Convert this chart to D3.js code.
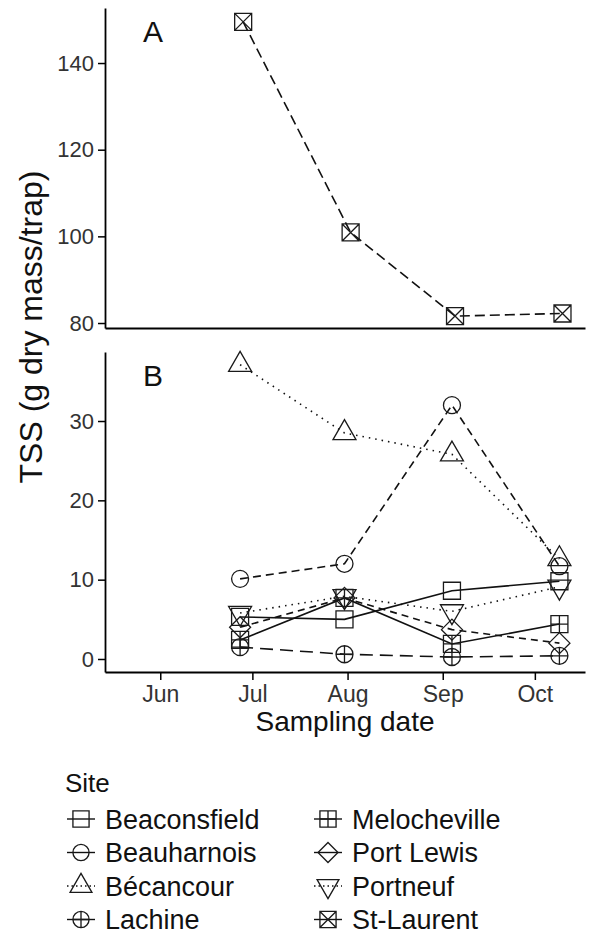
<!DOCTYPE html>
<html>
<head>
<meta charset="utf-8">
<script src="https://cdn.jsdelivr.net/npm/d3@7"></script>
<style>
  body { margin: 0; background: #fff; }
  text { font-family: "Liberation Sans", Arial, sans-serif; }
</style>
</head>
<body>
<svg width="589" height="938"></svg>
<script>
// Data
var sites = ["Beaconsfield", "Beauharnois", "Bécancour", "Lachine",
             "Melocheville", "Port Lewis", "Portneuf", "St-Laurent"];
var sampleDates = ["2013-06-27", "2013-07-31", "2013-09-04", "2013-10-09"];
var stLaurentDates = ["2013-06-28", "2013-08-02", "2013-09-05", "2013-10-10"];

var beaconsfield = [5.3, 5.0, 8.6, 9.8];
var beauharnois  = [10.1, 12.0, 32.0, 11.7];
var becancour    = [37.1, 28.5, 25.8, 12.6];
var lachine      = [1.5, 0.6, 0.25, 0.4];
var melocheville = [2.4, 7.7, 1.9, 4.4];
var portLewis    = [4.0, 7.7, 3.7, 2.0];
var portneuf     = [5.8, 7.9, 6.0, 9.1];
var stLaurent    = [149.5, 100.9, 81.6, 82.2];

var monthTicks = ["2013-06-01", "2013-07-01", "2013-08-01", "2013-09-01", "2013-10-01"];
var monthLabels = ["Jun", "Jul", "Aug", "Sep", "Oct"];
var ticksA = [80, 100, 120, 140];
var ticksB = [0, 10, 20, 30];
var xDomain = ["2013-05-14", "2013-10-17T08:00"];
var domainA = [78.85, 152.7];
var domainB = [-1.64, 38.7];

// shape + line type per site
var shapes = ["square", "circle", "triUp", "circlePlus", "squarePlus", "diamond", "triDown", "squareX"];
var dashes = [null, "8,5", "1.5,5", "13,7", null, "7,5", "1.5,5", "10,5"];

var parse = d3.isoParse;

var svg = d3.select("svg"),
    left = 105, right = 585;

var x = d3.scaleTime()
    .domain(xDomain.map(parse))
    .range([left, right]);

var yA = d3.scaleLinear().domain(domainA).range([328, 8]);
var yB = d3.scaleLinear().domain(domainB).range([672, 352]);

function shapePath(kind) {
  var h = 8.5, r = 8.5, d = 10.5, a = 23, th = a * Math.sqrt(3) / 2;
  var sq = "M" + -h + "," + -h + "H" + h + "V" + h + "H" + -h + "Z";
  var ci = "M" + -r + ",0a" + r + "," + r + " 0 1,0 " + 2 * r + ",0a" + r + "," + r + " 0 1,0 " + -2 * r + ",0Z";
  switch (kind) {
    case "square": return sq;
    case "circle": return ci;
    case "circlePlus": return ci + "M" + -r + ",0H" + r + "M0," + -r + "V" + r;
    case "squarePlus": return sq + "M" + -h + ",0H" + h + "M0," + -h + "V" + h;
    case "squareX": return sq + "M" + -h + "," + -h + "L" + h + "," + h + "M" + h + "," + -h + "L" + -h + "," + h;
    case "diamond": return "M0," + -d + "L" + d + ",0L0," + d + "L" + -d + ",0Z";
    case "triUp": return "M0," + (-2 * th / 3) + "L" + a / 2 + "," + th / 3 + "L" + -a / 2 + "," + th / 3 + "Z";
    case "triDown": return "M0," + (2 * th / 3) + "L" + a / 2 + "," + -th / 3 + "L" + -a / 2 + "," + -th / 3 + "Z";
  }
}

function series(values, dates) {
  return values.map(function(v, i) { return {date: parse(dates[i]), v: v}; });
}

var seriesB = [
  {i: 0, pts: series(beaconsfield, sampleDates)},
  {i: 1, pts: series(beauharnois, sampleDates)},
  {i: 2, pts: series(becancour, sampleDates)},
  {i: 3, pts: series(lachine, sampleDates)},
  {i: 4, pts: series(melocheville, sampleDates)},
  {i: 5, pts: series(portLewis, sampleDates)},
  {i: 6, pts: series(portneuf, sampleDates)}
];
var seriesA = [{i: 7, pts: series(stLaurent, stLaurentDates)}];

function drawPanel(y, data, ticks, letter, showX) {
  var g = svg.append("g");

  var line = d3.line()
      .x(function(d) { return x(d.date); })
      .y(function(d) { return y(d.v); });

  g.selectAll(".ln")
    .data(data)
    .enter().append("path")
      .attr("d", function(d) { return line(d.pts); })
      .attr("fill", "none")
      .attr("stroke", "#111")
      .attr("stroke-width", 1.6)
      .attr("stroke-dasharray", function(d) { return dashes[d.i]; });

  data.forEach(function(s) {
    g.selectAll(null)
      .data(s.pts)
      .enter().append("path")
        .attr("transform", function(d) { return "translate(" + x(d.date) + "," + y(d.v) + ")"; })
        .attr("d", shapePath(shapes[s.i]))
        .attr("fill", "none")
        .attr("stroke", "#1a1a1a")
        .attr("stroke-width", 1.3);
  });

  // y axis
  var ya = g.append("g")
      .attr("transform", "translate(" + left + ",0)")
      .call(d3.axisLeft(y).tickValues(ticks).tickSize(7).tickPadding(4).tickSizeOuter(0));
  ya.select(".domain").attr("stroke-width", 1.8);
  ya.selectAll(".tick line").attr("stroke-width", 1.5);
  ya.selectAll(".tick text").attr("font-size", 22).attr("fill", "#333")
      .style("font-family", "'Liberation Sans', Arial, sans-serif");

  // x axis
  var xa = g.append("g")
      .attr("transform", "translate(0," + y.range()[0] + ")");
  if (showX) {
    xa.call(d3.axisBottom(x)
        .tickValues(monthTicks.map(parse))
        .tickFormat(function(d, i) { return monthLabels[i]; })
        .tickSize(8).tickPadding(6).tickSizeOuter(0));
    xa.selectAll(".tick text").attr("font-size", 23).attr("fill", "#333")
        .style("font-family", "'Liberation Sans', Arial, sans-serif");
    xa.selectAll(".tick line").attr("stroke-width", 1.5);
  } else {
    xa.call(d3.axisBottom(x).tickValues([]).tickSizeOuter(0));
  }
  xa.select(".domain").attr("stroke-width", 1.8);

  g.append("text")
    .attr("x", 143)
    .attr("y", y.range()[1] + 34)
    .attr("font-size", 30)
    .attr("fill", "#111")
    .text(letter);
}

drawPanel(yA, seriesA, ticksA, "A", false);
drawPanel(yB, seriesB, ticksB, "B", true);

// axis titles
svg.append("text")
  .attr("x", (left + right) / 2)
  .attr("y", 731)
  .attr("text-anchor", "middle")
  .attr("font-size", 28)
  .attr("fill", "#111")
  .text("Sampling date");

svg.append("text")
  .attr("transform", "translate(42,327) rotate(-90)")
  .attr("text-anchor", "middle")
  .attr("font-size", 32)
  .attr("fill", "#111")
  .text("TSS (g dry mass/trap)");

// legend
var legend = svg.append("g");
legend.append("text")
  .attr("x", 65).attr("y", 792)
  .attr("font-size", 26)
  .attr("fill", "#111")
  .text("Site");

var items = legend.selectAll(".item")
  .data(sites)
  .enter().append("g")
    .attr("transform", function(d, i) {
      var col = Math.floor(i / 4), row = i % 4;
      return "translate(" + (col ? 328 : 81) + "," + (819 + row * 33.5) + ")";
    });

items.append("line")
  .attr("x1", -14).attr("x2", 14)
  .attr("stroke", "#111")
  .attr("stroke-width", 1.4)
  .attr("stroke-dasharray", function(d, i) { return dashes[i] && dashes[i].indexOf("1.5") === 0 ? "1.5,3" : null; });

items.append("path")
  .attr("d", function(d, i) { return shapePath(shapes[i]); })
  .attr("transform", "scale(0.95)")
  .attr("fill", "none")
  .attr("stroke", "#1a1a1a")
  .attr("stroke-width", 1.4);

items.append("text")
  .attr("x", 24)
  .attr("dy", "0.36em")
  .attr("font-size", 27)
  .attr("fill", "#111")
  .text(function(d) { return d; });
</script>
</body>
</html>
